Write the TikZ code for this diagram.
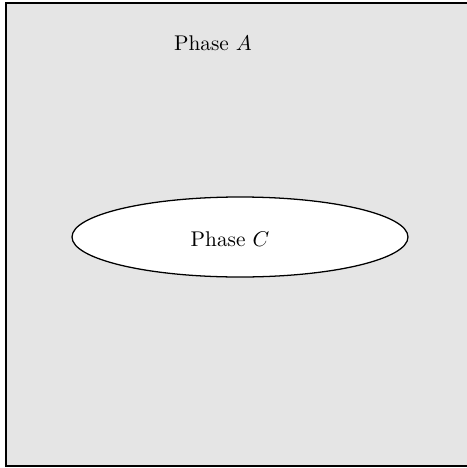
\documentclass[tikz,border=0pt]{standalone}
\usepackage{tikz,amsmath,amssymb}
\usetikzlibrary{shapes,calc,positioning}
\definecolor{phasegray}{RGB}{229,229,229}

\begin{document}
\begin{tikzpicture}[x=0.47pt,y=-0.47pt]
% Page size, in reference pixels
\useasboundingbox (0,0) rectangle (467,468);
% Domain and inclusion sizes
\pgfmathsetmacro{\ex}{240} % ellipse centre x
\pgfmathsetmacro{\ey}{237} % ellipse centre y
\pgfmathsetmacro{\ea}{168} % semi-major axis
\pgfmathsetmacro{\eb}{40} % semi-minor axis

% Matrix phase, clipped at the right edge
\begin{scope}
\clip (0,0) rectangle (467,468);
\fill[phasegray] (6,3) rectangle (470,466);
\draw[line width=1.2pt] (470,3) -- (6,3) -- (6,466) -- (470,466);
\end{scope}
\node (phaseA) at (213,43) {Phase $A$};

% Inclusion
\draw[fill=white,line width=0.6pt] (\ex,\ey) ellipse ({\ea} and {\eb});
\node (phaseC) at (230,239) {Phase $C$};
\end{tikzpicture}
\end{document}
